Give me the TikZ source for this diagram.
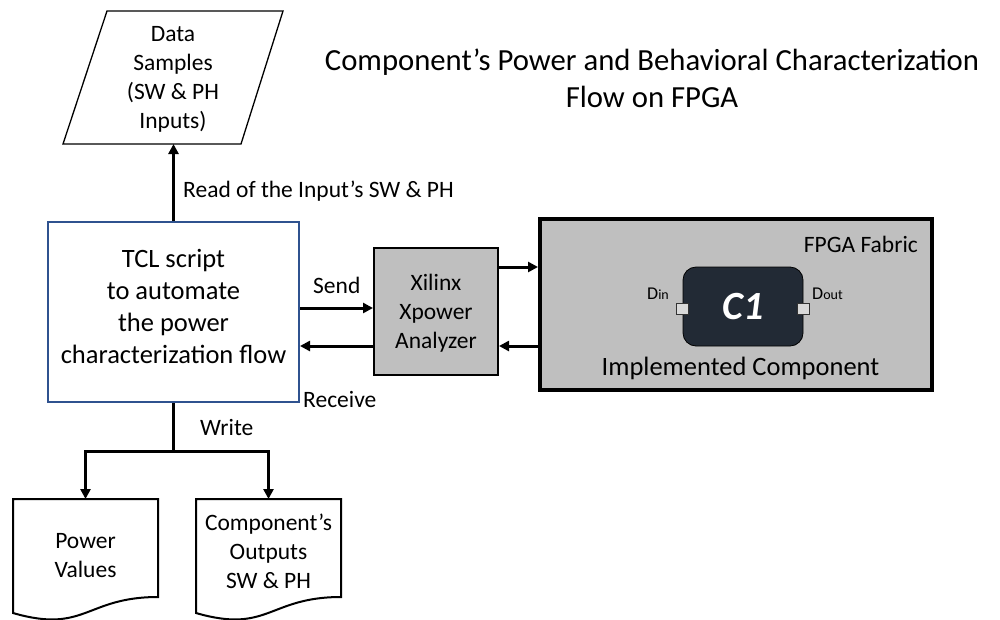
\documentclass[tikz,border=0pt]{standalone}
\usepackage{fontspec}
\setmainfont{Carlito}
\usetikzlibrary{arrows.meta,calc}
\definecolor{tclblue}{RGB}{47,82,143}
\definecolor{fabricgrey}{RGB}{191,191,191}
\definecolor{compdark}{RGB}{34,42,53}
\definecolor{portgrey}{RGB}{217,217,217}
\begin{document}
\begin{tikzpicture}[x=1pt,y=-1pt,
  arr/.style={line width=3pt,-{Triangle[length=10pt,width=10pt]}},
  wire/.style={line width=3pt},
  lbl/.style={font=\fontsize{23.5}{28.7}\selectfont,inner sep=0pt},
  bigtxt/.style={font=\fontsize{26.5}{32}\selectfont,inner sep=0pt,align=center},
  midtxt/.style={font=\fontsize{23.5}{29}\selectfont,inner sep=0pt,align=center},
  tclbox/.style={draw=tclblue,line width=2pt,fill=white,minimum width=251pt,minimum height=180pt,inner sep=0pt},
  greybox/.style={draw=black,fill=fabricgrey,inner sep=0pt},
  docline/.style={draw=black,line width=2pt,fill=white,line join=miter},
  port/.style={draw=black!80,fill=portgrey,line width=0.8pt,minimum width=12pt,minimum height=11pt,inner sep=0pt}
]
\useasboundingbox (0,0) rectangle (1000,619);

% title
\node[font=\fontsize{30.7}{37.5}\selectfont,align=center,inner sep=0pt] (title) at (652,78.5)
  {Component’s Power and Behavioral Characterization\\Flow on FPGA};

% data samples (parallelogram)
\draw[line width=1.3pt,fill=white] (107,11) -- (283,11) -- (241,144) -- (63,144) -- cycle;
\node[midtxt] (data) at (173,79) {Data\\Samples\\(SW \& PH\\Inputs)};
\coordinate (dataB) at (173.5,144);

% TCL script box
\node[tclbox] (tcl) at (173.5,312) {};
\node[bigtxt] (tcltext) at (173.5,306)
  {TCL script\\to automate\\the power\\characterization flow};

% Xilinx box
\node[greybox,line width=2pt,minimum width=124pt,minimum height=127pt] (xil) at (436,311.5) {};
\node[midtxt] (xiltext) at (436,313) {Xilinx\\Xpower\\Analyzer};

% FPGA fabric
\node[greybox,line width=4pt,minimum width=392pt,minimum height=171pt] (fpga) at (736,304.5) {};
\node[lbl,anchor=base east] (fabric) at (918,252) {FPGA Fabric};
\node[inner sep=0pt,anchor=base,font=\fontsize{26.5}{32}\selectfont] (impl) at (740.5,375) {Implemented Component};

% component C1
\node[draw=black,line width=0.8pt,fill=compdark,rounded corners=13pt,minimum width=120pt,minimum height=79pt,inner sep=0pt] (c1) at (743,306.5) {};
\node[text=white,font=\fontsize{40}{40}\selectfont\bfseries\itshape,inner sep=0pt] (c1text) at (743,307) {C1};
\coordinate (py) at (0,308.5);
\node[port] (pin) at (c1.west |- py) {};
\node[port] (pout) at (c1.east |- py) {};
\node[inner sep=0pt,anchor=base west] (din) at (647,299) {\fontsize{18}{18}\selectfont D\fontsize{14}{14}\selectfont in};
\node[inner sep=0pt,anchor=base west] (dout) at (812,299) {\fontsize{18}{18}\selectfont D\fontsize{14}{14}\selectfont out};

% documents
\draw[docline] (13,499) -- (158,499) -- (158,597) .. controls (85.5,597) and (85.5,634) .. (13,613) -- cycle;
\draw[docline] (196,499) -- (341,499) -- (341,597) .. controls (268.5,597) and (268.5,634) .. (196,613) -- cycle;
\node[midtxt] (doc1) at (85.5,556) {Power\\Values};
\node[midtxt] (doc2) at (268.5,551.5) {Component’s\\Outputs\\SW \& PH};
\coordinate (d1top) at (85.5,499);
\coordinate (d2top) at (268.5,499);

% connectors
\draw[arr] (tcl.north) -- (dataB);
\node[lbl,anchor=base west] (readlbl) at (183,197) {Read of the Input’s SW \& PH};

\coordinate (sy) at (0,308);
\coordinate (ry) at (0,346);
\coordinate (fy) at (0,267);
\draw[arr] (tcl.east |- sy) -- (xil.west |- sy);
\draw[arr] (xil.west |- ry) -- (tcl.east |- ry);
\draw[arr] (xil.east |- fy) -- (fpga.west |- fy);
\draw[arr] (fpga.west |- ry) -- (xil.east |- ry);
\node[lbl,anchor=base west] (sendlbl) at (313,293) {Send};
\node[lbl,anchor=base west] (recvlbl) at (303,407) {Receive};

\coordinate (wj) at (173.5,451);
\draw[wire] (tcl.south) -- (wj);
\draw[arr] (wj) -| (d1top);
\draw[arr] (wj) -| (d2top);
\node[lbl,anchor=base west] (writelbl) at (200,435) {Write};
\end{tikzpicture}
\end{document}
